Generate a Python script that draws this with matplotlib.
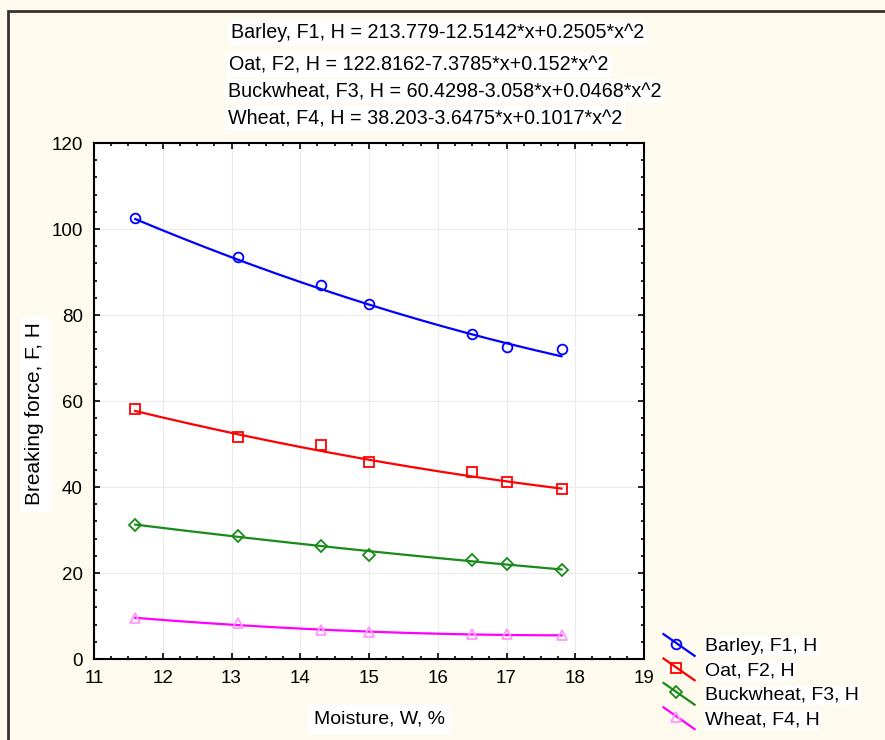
import numpy as np
import matplotlib
matplotlib.use("Agg")
import matplotlib.pyplot as plt
from matplotlib.lines import Line2D
from matplotlib.legend_handler import HandlerBase
from matplotlib.patches import Rectangle
from matplotlib.ticker import MultipleLocator

plt.rcParams['font.family'] = ['Liberation Sans', 'DejaVu Sans']

# данные с графика
moisture = [11.6, 13.1, 14.3, 15.0, 16.5, 17.0, 17.8]
barley = [102.5, 93.5, 87.0, 82.5, 75.5, 72.5, 72.0]
oat = [58.2, 51.7, 49.7, 45.8, 43.5, 41.2, 39.5]
buckwheat = [31.2, 28.7, 26.3, 24.3, 23.0, 22.0, 20.7]
wheat = [9.5, 8.3, 6.7, 6.2, 5.8, 5.7, 5.6]

# коэффициенты аппроксимации (a + b*x + c*x^2), как подписано на графике
coef_barley = [213.779, -12.5142, 0.2505]
coef_oat = [122.8162, -7.3785, 0.152]
coef_buckwheat = [60.4298, -3.058, 0.0468]
coef_wheat = [38.203, -3.6475, 0.1017]

labels = ['Barley, F1, H', 'Oat, F2, H', 'Buckwheat, F3, H', 'Wheat, F4, H']
equations = ['Barley, F1, H = 213.779-12.5142*x+0.2505*x^2',
             'Oat, F2, H = 122.8162-7.3785*x+0.152*x^2',
             'Buckwheat, F3, H = 60.4298-3.058*x+0.0468*x^2',
             'Wheat, F4, H = 38.203-3.6475*x+0.1017*x^2']

series = [barley, oat, buckwheat, wheat]
coefs = [coef_barley, coef_oat, coef_buckwheat, coef_wheat]
line_colors = ['#0000ff', '#ff0000', '#1a8a1a', '#ff00ff']
marker_colors = ['#0000ff', '#ff0000', '#1a8a1a', '#ff99ff']
markers = ['o', 's', 'D', '^']
msizes = [7, 7, 6, 7]


class DiagHandler(HandlerBase):
    def create_artists(self, legend, orig, xdescent, ydescent, width, height, fontsize, trans):
        x0, x1 = -xdescent, -xdescent + width
        y0, y1 = -ydescent + height * 1.25, -ydescent - height * 0.35
        ln = Line2D([x0, x1], [y0, y1], color=orig.get_color(), lw=1.6)
        mk = Line2D([x0 + width * 0.4], [(y0 + y1) / 2 + height * 0.1],
                    marker=orig.get_marker(), ms=orig.get_markersize(),
                    mfc='none', mec=orig.get_markeredgecolor(), mew=1.3, ls='none')
        ln.set_transform(trans)
        mk.set_transform(trans)
        return [ln, mk]


fig = plt.figure(figsize=(8.85, 7.4), dpi=100)
fig.patch.set_facecolor('#fefaee')
fig.patches.append(Rectangle((8 / 885, -0.1), 1.2, 1 - 11 / 740 + 0.1, transform=fig.transFigure,
                             fill=False, edgecolor='#333333', lw=2))

ax = fig.add_axes([94 / 885, 1 - 659 / 740, (644 - 94) / 885, (659 - 143) / 740])
ax.set_facecolor('white')

handles = []
xx = np.linspace(moisture[0], moisture[-1], 200)
for y, c, lc, mc, m, ms in zip(series, coefs, line_colors, marker_colors, markers, msizes):
    fit = c[0] + c[1] * xx + c[2] * xx ** 2
    ax.plot(xx, fit, color=lc, lw=1.6, zorder=3)
    ax.plot(moisture, y, ls='none', marker=m, ms=ms, mfc='none', mec=mc, mew=1.3, zorder=4)
    handles.append(Line2D([], [], color=lc, marker=m, ms=ms, mec=mc))

ax.set_xlim(11, 19)
ax.set_ylim(0, 120)
ax.xaxis.set_major_locator(MultipleLocator(1))
ax.xaxis.set_minor_locator(MultipleLocator(0.25))
ax.yaxis.set_major_locator(MultipleLocator(20))
ax.yaxis.set_minor_locator(MultipleLocator(4))
ax.tick_params(which='both', direction='in', top=True, right=True, labelsize=13.5, width=1.2)
ax.tick_params(which='major', length=4, pad=8)
ax.tick_params(which='minor', length=2.5)
ax.grid(True, color='#ececec', lw=0.8)
for s in ax.spines.values():
    s.set_linewidth(1.5)

fig.text(35 / 885, 1 - 414 / 740, 'Breaking force, F, H', rotation=90, ha='center', va='center',
         fontsize=15, backgroundcolor='white')
fig.text(379 / 885, 1 - 719 / 740, 'Moisture, W, %', ha='center', va='center',
         fontsize=14, backgroundcolor='white')

eq_pos = [(231, 33), (229, 65), (228, 91), (228, 118)]
for (px, py), t in zip(eq_pos, equations):
    fig.text(px / 885, 1 - py / 740, t, ha='left', va='center', fontsize=14.2,
             bbox=dict(facecolor='white', edgecolor='none', pad=2))

leg = fig.legend(handles, labels, loc='upper left', bbox_to_anchor=(646 / 885, 1 - 620 / 740),
                 frameon=False, fontsize=14, handlelength=1.6, handletextpad=0.55,
                 labelspacing=0.35, handler_map={Line2D: DiagHandler()})
for t in leg.get_texts():
    t.set_bbox(dict(facecolor='white', edgecolor='none', pad=1))

fig.savefig('out.png', dpi=100, facecolor=fig.get_facecolor())
